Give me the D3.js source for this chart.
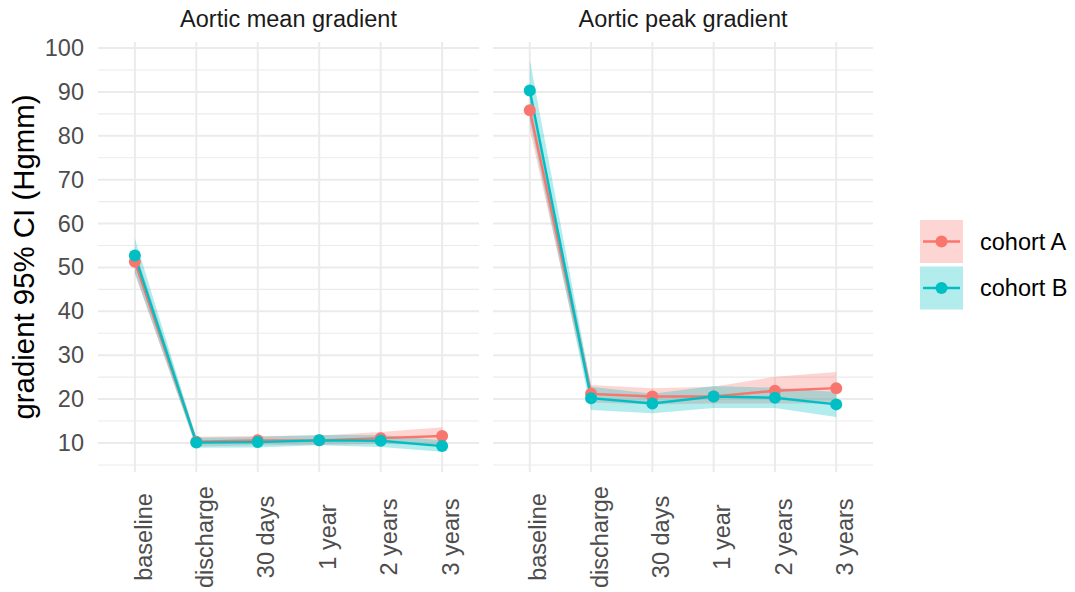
<!DOCTYPE html>
<html>
<head>
<meta charset="utf-8">
<script src="https://cdn.jsdelivr.net/npm/d3@7"></script>
<style>
  html, body { margin: 0; padding: 0; background: #ffffff; }
  svg { display: block; font-family: "Liberation Sans", Arial, sans-serif; }
</style>
</head>
<body>
<svg id="chart" width="1075" height="592"></svg>
<script>
// Follow-up time points shared by both panels
const timepoints = ["baseline", "discharge", "30 days", "1 year", "2 years", "3 years"];
const cohorts = ["cohort A", "cohort B"];
const panelTitles = ["Aortic mean gradient", "Aortic peak gradient"];
const yTicks = [10, 20, 30, 40, 50, 60, 70, 80, 90, 100];
const yMinorTicks = [5, 15, 25, 35, 45, 55, 65, 75, 85, 95];

// Aortic mean gradient (mmHg): estimate and 95% CI per cohort
const meanA    = [51.3, 10.3, 10.6, 10.6, 11.1, 11.6];
const meanA_lo = [48.5,  9.2,  9.5,  9.6,  9.8,  9.6];
const meanA_hi = [54.2, 11.4, 11.6, 11.7, 12.5, 13.6];
const meanB    = [52.7, 10.1, 10.2, 10.6, 10.5,  9.3];
const meanB_lo = [48.8,  8.9,  9.0,  9.5,  9.1,  8.0];
const meanB_hi = [56.6, 11.2, 11.4, 11.8, 11.8, 10.6];

// Aortic peak gradient (mmHg): estimate and 95% CI per cohort
const peakA    = [85.8, 21.2, 20.6, 20.6, 21.9, 22.5];
const peakA_lo = [81.5, 19.2, 18.8, 19.0, 19.0, 19.0];
const peakA_hi = [90.0, 23.2, 22.5, 22.8, 25.1, 26.2];
const peakB    = [90.3, 20.2, 19.0, 20.6, 20.3, 18.8];
const peakB_lo = [83.5, 17.5, 16.8, 18.0, 18.0, 15.9];
const peakB_hi = [97.3, 22.8, 21.2, 23.0, 22.6, 21.6];

const colors = { "cohort A": "#F8766D", "cohort B": "#00BFC4" };

const panels = [
  { title: panelTitles[0], x0: 98, x1: 479, series: [
      { cohort: cohorts[0], est: meanA, lo: meanA_lo, hi: meanA_hi },
      { cohort: cohorts[1], est: meanB, lo: meanB_lo, hi: meanB_hi } ] },
  { title: panelTitles[1], x0: 493, x1: 873, series: [
      { cohort: cohorts[0], est: peakA, lo: peakA_lo, hi: peakA_hi },
      { cohort: cohorts[1], est: peakB, lo: peakB_lo, hi: peakB_hi } ] }
];

const smallFont = 23.5;
const panelTop = 42, panelBottom = 472;
const svg = d3.select("#chart");
const y = d3.scaleLinear().domain([10, 100]).range([443, 48]);

panels.forEach((p, pi) => {
  const x = d3.scalePoint().domain(timepoints).range([p.x0, p.x1]).padding(0.6);
  const g = svg.append("g");

  // grid
  g.selectAll(".minor").data(yMinorTicks).join("line")
    .attr("x1", p.x0).attr("x2", p.x1)
    .attr("y1", d => y(d)).attr("y2", d => y(d))
    .attr("stroke", "#ebebeb").attr("stroke-width", 1.1);
  g.selectAll(".major").data(yTicks).join("line")
    .attr("x1", p.x0).attr("x2", p.x1)
    .attr("y1", d => y(d)).attr("y2", d => y(d))
    .attr("stroke", "#ebebeb").attr("stroke-width", 2);
  g.selectAll(".vgrid").data(timepoints).join("line")
    .attr("x1", d => x(d)).attr("x2", d => x(d))
    .attr("y1", panelTop).attr("y2", panelBottom)
    .attr("stroke", "#ebebeb").attr("stroke-width", 2);

  // facet title
  g.append("text")
    .attr("x", (p.x0 + p.x1) / 2).attr("y", 27)
    .attr("text-anchor", "middle")
    .attr("font-size", smallFont).attr("fill", "#1a1a1a")
    .text(p.title);

  // confidence ribbons
  p.series.forEach(s => {
    const area = d3.area()
      .x((d, i) => x(timepoints[i]))
      .y0((d, i) => y(s.lo[i]))
      .y1((d, i) => y(s.hi[i]));
    g.append("path").datum(s.est)
      .attr("d", area)
      .attr("fill", colors[s.cohort]).attr("fill-opacity", 0.3);
  });

  // estimate lines
  p.series.forEach(s => {
    const line = d3.line().x((d, i) => x(timepoints[i])).y(d => y(d));
    g.append("path").datum(s.est)
      .attr("d", line).attr("fill", "none")
      .attr("stroke", colors[s.cohort]).attr("stroke-width", 2.4);
  });

  // points
  p.series.forEach(s => {
    g.selectAll(null).data(s.est).join("circle")
      .attr("cx", (d, i) => x(timepoints[i]))
      .attr("cy", d => y(d))
      .attr("r", 6)
      .attr("fill", colors[s.cohort]);
  });

  // x tick labels (rotated)
  const xAxis = d3.axisBottom(x).tickSize(0).tickPadding(0);
  const ax = g.append("g").attr("transform", `translate(0,${panelBottom})`).call(xAxis);
  ax.select(".domain").remove();
  ax.selectAll("text")
    .attr("transform", "translate(0,65) rotate(-90)")
    .attr("dy", "0.69em").attr("y", 0)
    .attr("text-anchor", "middle")
    .attr("font-size", smallFont)
    .attr("font-family", "Liberation Sans, Arial, sans-serif")
    .attr("fill", "#4d4d4d");

  // y tick labels on the first panel only
  if (pi === 0) {
    const yAxis = d3.axisLeft(y).tickValues(yTicks).tickSize(0).tickPadding(0);
    const ay = g.append("g").attr("transform", `translate(${p.x0 - 14},0)`).call(yAxis);
    ay.select(".domain").remove();
    ay.selectAll("text")
      .attr("font-size", smallFont)
      .attr("font-family", "Liberation Sans, Arial, sans-serif")
      .attr("fill", "#4d4d4d");
  }
});

// y-axis title
svg.append("text")
  .attr("transform", `translate(34,${(panelTop + panelBottom) / 2}) rotate(-90)`)
  .attr("text-anchor", "middle")
  .attr("font-size", 29.4).attr("fill", "#000")
  .text("gradient 95% CI (Hgmm)");

// legend
const legend = svg.append("g").attr("transform", "translate(920,220)");
cohorts.forEach((c, i) => {
  const gy = i * 46.5;
  const k = legend.append("g").attr("transform", `translate(0,${gy})`);
  k.append("rect").attr("width", 43).attr("height", 43)
    .attr("fill", colors[c]).attr("fill-opacity", 0.3);
  k.append("line").attr("x1", 3).attr("x2", 40).attr("y1", 21.5).attr("y2", 21.5)
    .attr("stroke", colors[c]).attr("stroke-width", 2.4);
  k.append("circle").attr("cx", 21.5).attr("cy", 21.5).attr("r", 6).attr("fill", colors[c]);
  k.append("text").attr("x", 60).attr("y", 21.5).attr("dy", "0.35em")
    .attr("font-size", smallFont).attr("fill", "#000").text(c);
});
</script>
</body>
</html>
